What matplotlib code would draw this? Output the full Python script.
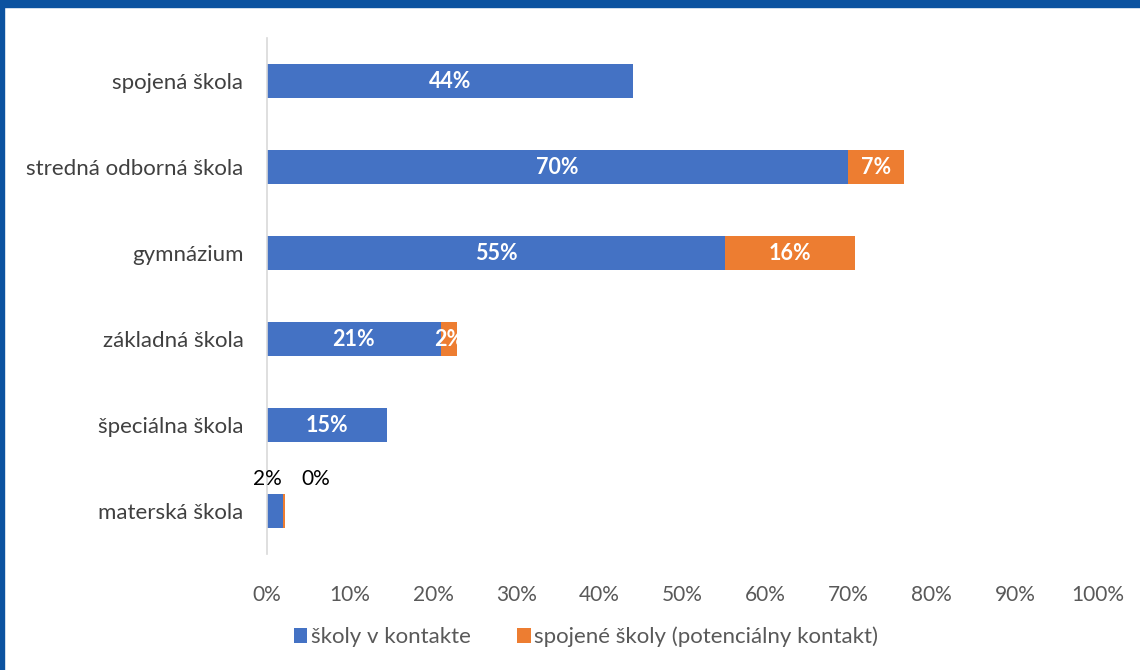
import matplotlib
matplotlib.use("Agg")
import matplotlib.pyplot as plt
from matplotlib.patches import Rectangle

categories = ["spojená škola", "stredná odborná škola", "gymnázium",
              "základná škola", "špeciálna škola", "materská škola"]
in_contact = [44.0, 69.9, 55.1, 20.9, 14.5, 1.9]
potential = [0.0, 6.8, 15.7, 2.0, 0.0, 0.25]
contact_labels = ["44%", "70%", "55%", "21%", "15%", "2%"]
potential_labels = ["", "7%", "16%", "2%", "", "0%"]
series_names = ["školy v kontakte", "spojené školy (potenciálny kontakt)"]
xticks = [0, 10, 20, 30, 40, 50, 60, 70, 80, 90, 100]

BLUE = "#4472C4"
ORANGE = "#ED7D31"
BORDER = "#0B52A0"

plt.rcParams["font.family"] = ["Lato", "DejaVu Sans"]

fig = plt.figure(figsize=(11.4, 6.7), dpi=100)
ax = fig.add_axes([267/1140, 1-554/670, (1098-267)/1140, (554-38)/670])

y = list(range(len(categories)))
b1 = ax.barh(y, in_contact, height=0.4, color=BLUE)
b2 = ax.barh(y, potential, left=in_contact, height=0.4, color=ORANGE)

for i in range(len(categories)):
    if categories[i] == "materská škola":
        ax.annotate(contact_labels[i], (0, y[i]), xytext=(0, 23),
                    textcoords="offset points", ha="center", va="center",
                    fontsize=15, color="black")
        ax.annotate(potential_labels[i], (in_contact[i] + potential[i], y[i]), xytext=(22, 23),
                    textcoords="offset points", ha="center", va="center",
                    fontsize=15, color="black")
        continue
    ax.text(in_contact[i] / 2, y[i], contact_labels[i], ha="center", va="center",
            color="white", fontsize=15.5, fontweight="bold")
    if potential_labels[i]:
        ax.text(in_contact[i] + potential[i] / 2, y[i], potential_labels[i],
                ha="center", va="center", color="white", fontsize=15.5, fontweight="bold")

ax.set_ylim(len(categories) - 0.5, -0.5)
ax.set_xlim(0, 100)
ax.set_yticks(y)
ax.set_yticklabels(categories, fontsize=16, color="#404040")
ax.set_xticks(xticks)
ax.set_xticklabels([f"{t}%" for t in xticks], fontsize=15, color="#595959")
ax.tick_params(axis="both", length=0)
ax.tick_params(axis="y", pad=17)
ax.tick_params(axis="x", pad=22)
for s in ["top", "right", "bottom"]:
    ax.spines[s].set_visible(False)
ax.spines["left"].set_color("#D9D9D9")
ax.spines["left"].set_linewidth(1.2)

leg = fig.legend([b1, b2], series_names, loc="center", bbox_to_anchor=(0.514, 1-637/670),
                 ncol=2, frameon=False, fontsize=16, handlelength=0.6, handleheight=0.6,
                 handletextpad=0.15, columnspacing=2.1)
for t in leg.get_texts():
    t.set_color("#595959")

# blue frame at the top and left edge
fig.patches.append(Rectangle((0, 1-7/670), 1, 7/670, transform=fig.transFigure,
                             color=BORDER, zorder=5))
fig.patches.append(Rectangle((0, 0), 4/1140, 1, transform=fig.transFigure,
                             color=BORDER, zorder=5))

fig.savefig("out.png", dpi=100)
